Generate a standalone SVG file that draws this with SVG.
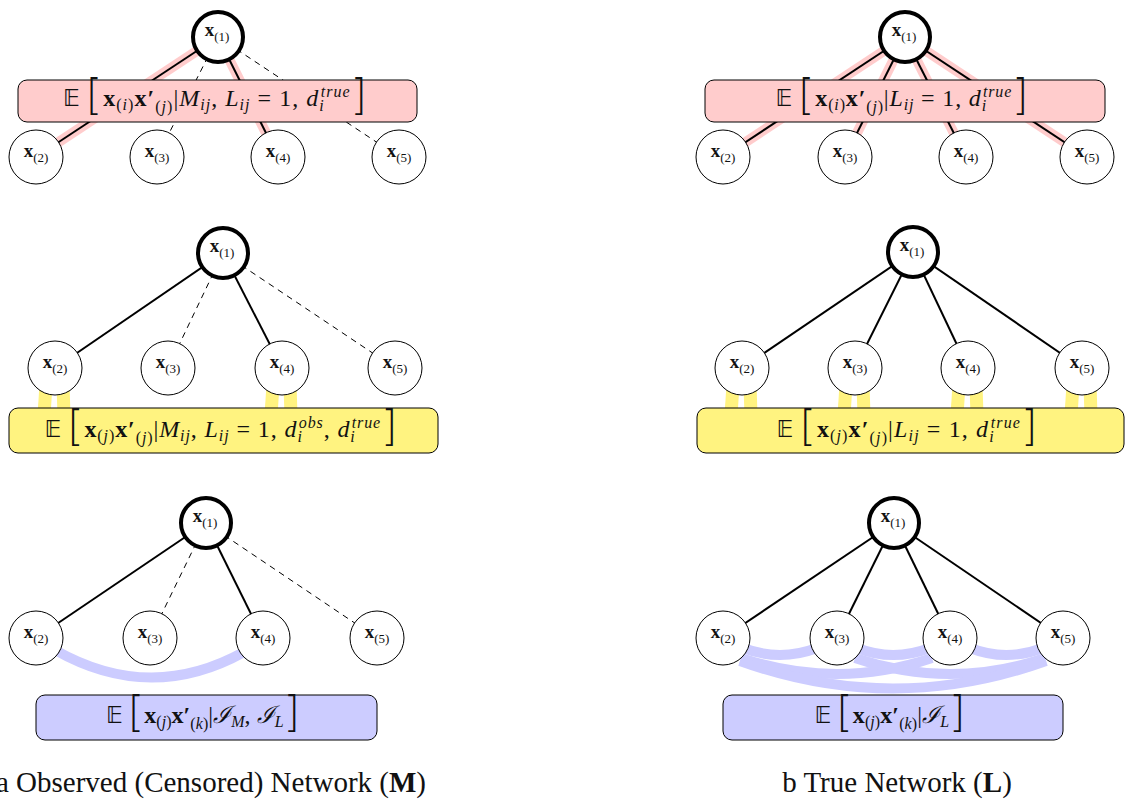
<svg xmlns="http://www.w3.org/2000/svg" width="1125" height="806" viewBox="0 0 1125 806">
<defs>
<style>
.nd{fill:#fff;stroke:#000;stroke-width:1}
.rt{fill:#fff;stroke:#000;stroke-width:4}
.e{stroke:#000;stroke-width:2;fill:none}
.d{stroke:#000;stroke-width:1;stroke-dasharray:6 5;fill:none}
.halo{stroke:#ffcccc;stroke-width:10;fill:none}
.yl{stroke:#fff380;stroke-width:13;fill:none}
.bl{stroke:#ccccff;stroke-width:10;fill:none}
.pinkbox{fill:#ffcccc;stroke:#000;stroke-width:1}
.yellowbox{fill:#fff380;stroke:#000;stroke-width:1}
.bluebox{fill:#ccccff;stroke:#000;stroke-width:1}
text{font-family:"Liberation Serif","DejaVu Serif",serif;fill:#111}
.nl{font-size:13px}
.nx{font-size:19px;font-weight:bold}
.f{font-size:24px}
.bb{font-family:"DejaVu Sans","DejaVu Serif",sans-serif;font-size:23px}
.br{font-family:"DejaVu Sans",sans-serif;font-size:42px;font-weight:200}
.s{font-size:16px}
.i{font-style:italic}
.b{font-weight:bold}
.cap{font-size:29px}
</style>
</defs>

<!-- connectors -->
<g id="connectors">
 <!-- row 1 panel a -->
 <line class="halo" x1="218" y1="37" x2="36" y2="157"/>
 <line class="halo" x1="218" y1="37" x2="278" y2="157"/>
 <line class="e" x1="218" y1="37" x2="36" y2="157"/>
 <line class="d" x1="218" y1="37" x2="157" y2="157"/>
 <line class="e" x1="218" y1="37" x2="278" y2="157"/>
 <line class="d" x1="218" y1="37" x2="399" y2="157"/>
 <!-- row 1 panel b -->
 <line class="halo" x1="905" y1="37" x2="723" y2="157"/>
 <line class="halo" x1="905" y1="37" x2="845" y2="157"/>
 <line class="halo" x1="905" y1="37" x2="966" y2="157"/>
 <line class="halo" x1="905" y1="37" x2="1087" y2="157"/>
 <line class="e" x1="905" y1="37" x2="723" y2="157"/>
 <line class="e" x1="905" y1="37" x2="845" y2="157"/>
 <line class="e" x1="905" y1="37" x2="966" y2="157"/>
 <line class="e" x1="905" y1="37" x2="1087" y2="157"/>
 <!-- row 2 panel a -->
 <line class="e" x1="223" y1="253" x2="55" y2="368"/>
 <line class="d" x1="223" y1="253" x2="168" y2="368"/>
 <line class="e" x1="223" y1="253" x2="282" y2="368"/>
 <line class="d" x1="223" y1="253" x2="395" y2="368"/>
 <line class="yl" x1="46" y1="385" x2="44" y2="415"/>
 <line class="yl" x1="63" y1="385" x2="64" y2="415"/>
 <line class="yl" x1="273" y1="385" x2="271" y2="415"/>
 <line class="yl" x1="290" y1="385" x2="291" y2="415"/>
 <!-- row 2 panel b -->
 <line class="e" x1="913" y1="252" x2="742" y2="368"/>
 <line class="e" x1="913" y1="252" x2="855" y2="368"/>
 <line class="e" x1="913" y1="252" x2="968" y2="368"/>
 <line class="e" x1="913" y1="252" x2="1082" y2="368"/>
 <line class="yl" x1="733" y1="385" x2="731" y2="415"/>
 <line class="yl" x1="750" y1="385" x2="751" y2="415"/>
 <line class="yl" x1="846" y1="385" x2="844" y2="415"/>
 <line class="yl" x1="863" y1="385" x2="864" y2="415"/>
 <line class="yl" x1="959" y1="385" x2="957" y2="415"/>
 <line class="yl" x1="976" y1="385" x2="977" y2="415"/>
 <line class="yl" x1="1073" y1="385" x2="1071" y2="415"/>
 <line class="yl" x1="1090" y1="385" x2="1091" y2="415"/>
 <!-- row 3 panel a -->
 <line class="e" x1="206" y1="523" x2="36" y2="638"/>
 <line class="d" x1="206" y1="523" x2="150" y2="638"/>
 <line class="e" x1="206" y1="523" x2="263" y2="638"/>
 <line class="d" x1="206" y1="523" x2="377" y2="638"/>
 <path class="bl" d="M55,650 Q150,704 244,652"/>
 <!-- row 3 panel b -->
 <path class="bl" d="M743,648 Q780,662 817,648"/>
 <path class="bl" d="M857,648 Q893,662 930,648"/>
 <path class="bl" d="M970,648 Q1006,662 1043,648"/>
 <path class="bl" d="M741,658 Q837,690 932,658"/>
 <path class="bl" d="M855,658 Q950,690 1045,658"/>
 <path class="bl" d="M740,661 Q893,716 1046,661"/>
 <line class="e" x1="894" y1="523" x2="723" y2="638"/>
 <line class="e" x1="894" y1="523" x2="837" y2="638"/>
 <line class="e" x1="894" y1="523" x2="950" y2="638"/>
 <line class="e" x1="894" y1="523" x2="1063" y2="638"/>
</g>

<!-- boxes -->
<g id="box-a1">
 <rect class="pinkbox" x="18" y="80" width="399" height="42" rx="9"/>
 <text class="f" x="215" y="106" text-anchor="middle" textLength="304" lengthAdjust="spacing"><tspan class="bb">𝔼</tspan><tspan class="br" dx="5" dy="4">[</tspan><tspan class="b" dy="-4">x</tspan><tspan class="s" dy="4">(<tspan class="i">i</tspan>)</tspan><tspan class="b" dy="-4">x′</tspan><tspan class="s" dy="6">(<tspan class="i">j</tspan>)</tspan><tspan dy="-6">|</tspan><tspan class="i">M</tspan><tspan class="s i" dy="4">ij</tspan><tspan dy="-4">, </tspan><tspan class="i">L</tspan><tspan class="s i" dy="4">ij</tspan><tspan dy="-4"> = 1, </tspan><tspan class="i">d</tspan><tspan class="s i" dy="5">i</tspan><tspan class="s i" dx="-4" dy="-14">true</tspan><tspan class="br" dy="13">]</tspan></text>
</g>
<g id="box-b1">
 <rect class="pinkbox" x="705" y="80" width="400" height="42" rx="9"/>
 <text class="f" x="902" y="106" text-anchor="middle" textLength="253" lengthAdjust="spacing"><tspan class="bb">𝔼</tspan><tspan class="br" dx="5" dy="4">[</tspan><tspan class="b" dy="-4">x</tspan><tspan class="s" dy="4">(<tspan class="i">i</tspan>)</tspan><tspan class="b" dy="-4">x′</tspan><tspan class="s" dy="6">(<tspan class="i">j</tspan>)</tspan><tspan dy="-6">|</tspan><tspan class="i">L</tspan><tspan class="s i" dy="4">ij</tspan><tspan dy="-4"> = 1, </tspan><tspan class="i">d</tspan><tspan class="s i" dy="5">i</tspan><tspan class="s i" dx="-4" dy="-14">true</tspan><tspan class="br" dy="13">]</tspan></text>
</g>
<g id="box-a2">
 <rect class="yellowbox" x="9" y="408" width="429" height="45" rx="9"/>
 <text class="f" x="221" y="437" text-anchor="middle" textLength="353" lengthAdjust="spacing"><tspan class="bb">𝔼</tspan><tspan class="br" dx="5" dy="4">[</tspan><tspan class="b" dy="-4">x</tspan><tspan class="s" dy="4">(<tspan class="i">j</tspan>)</tspan><tspan class="b" dy="-4">x′</tspan><tspan class="s" dy="6">(<tspan class="i">j</tspan>)</tspan><tspan dy="-6">|</tspan><tspan class="i">M</tspan><tspan class="s i" dy="4">ij</tspan><tspan dy="-4">, </tspan><tspan class="i">L</tspan><tspan class="s i" dy="4">ij</tspan><tspan dy="-4"> = 1, </tspan><tspan class="i">d</tspan><tspan class="s i" dy="5">i</tspan><tspan class="s i" dx="-4" dy="-14">obs</tspan><tspan dy="9">, </tspan><tspan class="i">d</tspan><tspan class="s i" dy="5">i</tspan><tspan class="s i" dx="-4" dy="-14">true</tspan><tspan class="br" dy="13">]</tspan></text>
</g>
<g id="box-b2">
 <rect class="yellowbox" x="697" y="408" width="427" height="45" rx="9"/>
 <text class="f" x="907" y="437" text-anchor="middle" textLength="261" lengthAdjust="spacing"><tspan class="bb">𝔼</tspan><tspan class="br" dx="5" dy="4">[</tspan><tspan class="b" dy="-4">x</tspan><tspan class="s" dy="4">(<tspan class="i">j</tspan>)</tspan><tspan class="b" dy="-4">x′</tspan><tspan class="s" dy="6">(<tspan class="i">j</tspan>)</tspan><tspan dy="-6">|</tspan><tspan class="i">L</tspan><tspan class="s i" dy="4">ij</tspan><tspan dy="-4"> = 1, </tspan><tspan class="i">d</tspan><tspan class="s i" dy="5">i</tspan><tspan class="s i" dx="-4" dy="-14">true</tspan><tspan class="br" dy="13">]</tspan></text>
</g>
<g id="box-a3">
 <rect class="bluebox" x="36" y="695" width="341" height="45" rx="9"/>
 <text class="f" x="203" y="723" text-anchor="middle" textLength="194" lengthAdjust="spacing"><tspan class="bb">𝔼</tspan><tspan class="br" dx="5" dy="4">[</tspan><tspan class="b" dy="-4">x</tspan><tspan class="s" dy="4">(<tspan class="i">j</tspan>)</tspan><tspan class="b" dy="-4">x′</tspan><tspan class="s" dy="6">(<tspan class="i">k</tspan>)</tspan><tspan dy="-6">|</tspan><tspan class="i">ℐ</tspan><tspan class="s i" dy="4">M</tspan><tspan dy="-4">, </tspan><tspan class="i">ℐ</tspan><tspan class="s i" dy="4">L</tspan><tspan class="br" dy="0">]</tspan></text>
</g>
<g id="box-b3">
 <rect class="bluebox" x="723" y="695" width="340" height="45" rx="9"/>
 <text class="f" x="890" y="723" text-anchor="middle" textLength="151" lengthAdjust="spacing"><tspan class="bb">𝔼</tspan><tspan class="br" dx="5" dy="4">[</tspan><tspan class="b" dy="-4">x</tspan><tspan class="s" dy="4">(<tspan class="i">j</tspan>)</tspan><tspan class="b" dy="-4">x′</tspan><tspan class="s" dy="6">(<tspan class="i">k</tspan>)</tspan><tspan dy="-6">|</tspan><tspan class="i">ℐ</tspan><tspan class="s i" dy="4">L</tspan><tspan class="br" dy="0">]</tspan></text>
</g>

<!-- nodes row 1 a -->
<g id="a1-x1"><circle class="rt" cx="218" cy="37" r="25"/><text class="nl" x="217" y="36" text-anchor="middle"><tspan class="nx">x</tspan><tspan dy="5">(1)</tspan></text></g>
<g id="a1-x2"><circle class="nd" cx="36" cy="157" r="27"/><text class="nl" x="36" y="157" text-anchor="middle"><tspan class="nx">x</tspan><tspan dy="5">(2)</tspan></text></g>
<g id="a1-x3"><circle class="nd" cx="157" cy="157" r="27"/><text class="nl" x="157" y="157" text-anchor="middle"><tspan class="nx">x</tspan><tspan dy="5">(3)</tspan></text></g>
<g id="a1-x4"><circle class="nd" cx="278" cy="157" r="27"/><text class="nl" x="278" y="157" text-anchor="middle"><tspan class="nx">x</tspan><tspan dy="5">(4)</tspan></text></g>
<g id="a1-x5"><circle class="nd" cx="399" cy="157" r="27"/><text class="nl" x="399" y="157" text-anchor="middle"><tspan class="nx">x</tspan><tspan dy="5">(5)</tspan></text></g>
<!-- nodes row 1 b -->
<g id="b1-x1"><circle class="rt" cx="905" cy="37" r="25"/><text class="nl" x="904" y="36" text-anchor="middle"><tspan class="nx">x</tspan><tspan dy="5">(1)</tspan></text></g>
<g id="b1-x2"><circle class="nd" cx="723" cy="157" r="27"/><text class="nl" x="723" y="157" text-anchor="middle"><tspan class="nx">x</tspan><tspan dy="5">(2)</tspan></text></g>
<g id="b1-x3"><circle class="nd" cx="845" cy="157" r="27"/><text class="nl" x="845" y="157" text-anchor="middle"><tspan class="nx">x</tspan><tspan dy="5">(3)</tspan></text></g>
<g id="b1-x4"><circle class="nd" cx="966" cy="157" r="27"/><text class="nl" x="966" y="157" text-anchor="middle"><tspan class="nx">x</tspan><tspan dy="5">(4)</tspan></text></g>
<g id="b1-x5"><circle class="nd" cx="1087" cy="157" r="27"/><text class="nl" x="1087" y="157" text-anchor="middle"><tspan class="nx">x</tspan><tspan dy="5">(5)</tspan></text></g>
<!-- nodes row 2 a -->
<g id="a2-x1"><circle class="rt" cx="223" cy="253" r="25"/><text class="nl" x="222" y="252" text-anchor="middle"><tspan class="nx">x</tspan><tspan dy="5">(1)</tspan></text></g>
<g id="a2-x2"><circle class="nd" cx="55" cy="368" r="27"/><text class="nl" x="55" y="368" text-anchor="middle"><tspan class="nx">x</tspan><tspan dy="5">(2)</tspan></text></g>
<g id="a2-x3"><circle class="nd" cx="168" cy="368" r="27"/><text class="nl" x="168" y="368" text-anchor="middle"><tspan class="nx">x</tspan><tspan dy="5">(3)</tspan></text></g>
<g id="a2-x4"><circle class="nd" cx="282" cy="368" r="27"/><text class="nl" x="282" y="368" text-anchor="middle"><tspan class="nx">x</tspan><tspan dy="5">(4)</tspan></text></g>
<g id="a2-x5"><circle class="nd" cx="395" cy="368" r="27"/><text class="nl" x="395" y="368" text-anchor="middle"><tspan class="nx">x</tspan><tspan dy="5">(5)</tspan></text></g>
<!-- nodes row 2 b -->
<g id="b2-x1"><circle class="rt" cx="913" cy="252" r="25"/><text class="nl" x="912" y="251" text-anchor="middle"><tspan class="nx">x</tspan><tspan dy="5">(1)</tspan></text></g>
<g id="b2-x2"><circle class="nd" cx="742" cy="368" r="27"/><text class="nl" x="742" y="368" text-anchor="middle"><tspan class="nx">x</tspan><tspan dy="5">(2)</tspan></text></g>
<g id="b2-x3"><circle class="nd" cx="855" cy="368" r="27"/><text class="nl" x="855" y="368" text-anchor="middle"><tspan class="nx">x</tspan><tspan dy="5">(3)</tspan></text></g>
<g id="b2-x4"><circle class="nd" cx="968" cy="368" r="27"/><text class="nl" x="968" y="368" text-anchor="middle"><tspan class="nx">x</tspan><tspan dy="5">(4)</tspan></text></g>
<g id="b2-x5"><circle class="nd" cx="1082" cy="368" r="27"/><text class="nl" x="1082" y="368" text-anchor="middle"><tspan class="nx">x</tspan><tspan dy="5">(5)</tspan></text></g>
<!-- nodes row 3 a -->
<g id="a3-x1"><circle class="rt" cx="206" cy="523" r="25"/><text class="nl" x="205" y="522" text-anchor="middle"><tspan class="nx">x</tspan><tspan dy="5">(1)</tspan></text></g>
<g id="a3-x2"><circle class="nd" cx="36" cy="638" r="27"/><text class="nl" x="36" y="638" text-anchor="middle"><tspan class="nx">x</tspan><tspan dy="5">(2)</tspan></text></g>
<g id="a3-x3"><circle class="nd" cx="150" cy="638" r="27"/><text class="nl" x="150" y="638" text-anchor="middle"><tspan class="nx">x</tspan><tspan dy="5">(3)</tspan></text></g>
<g id="a3-x4"><circle class="nd" cx="263" cy="638" r="27"/><text class="nl" x="263" y="638" text-anchor="middle"><tspan class="nx">x</tspan><tspan dy="5">(4)</tspan></text></g>
<g id="a3-x5"><circle class="nd" cx="377" cy="638" r="27"/><text class="nl" x="377" y="638" text-anchor="middle"><tspan class="nx">x</tspan><tspan dy="5">(5)</tspan></text></g>
<!-- nodes row 3 b -->
<g id="b3-x1"><circle class="rt" cx="894" cy="523" r="25"/><text class="nl" x="893" y="522" text-anchor="middle"><tspan class="nx">x</tspan><tspan dy="5">(1)</tspan></text></g>
<g id="b3-x2"><circle class="nd" cx="723" cy="638" r="27"/><text class="nl" x="723" y="638" text-anchor="middle"><tspan class="nx">x</tspan><tspan dy="5">(2)</tspan></text></g>
<g id="b3-x3"><circle class="nd" cx="837" cy="638" r="27"/><text class="nl" x="837" y="638" text-anchor="middle"><tspan class="nx">x</tspan><tspan dy="5">(3)</tspan></text></g>
<g id="b3-x4"><circle class="nd" cx="950" cy="638" r="27"/><text class="nl" x="950" y="638" text-anchor="middle"><tspan class="nx">x</tspan><tspan dy="5">(4)</tspan></text></g>
<g id="b3-x5"><circle class="nd" cx="1063" cy="638" r="27"/><text class="nl" x="1063" y="638" text-anchor="middle"><tspan class="nx">x</tspan><tspan dy="5">(5)</tspan></text></g>

<!-- captions -->
<text class="cap" x="426" y="792" text-anchor="end">a Observed (Censored) Network (<tspan class="b">M</tspan>)</text>
<text class="cap" x="897" y="792" text-anchor="middle">b True Network (<tspan class="b">L</tspan>)</text>
</svg>
